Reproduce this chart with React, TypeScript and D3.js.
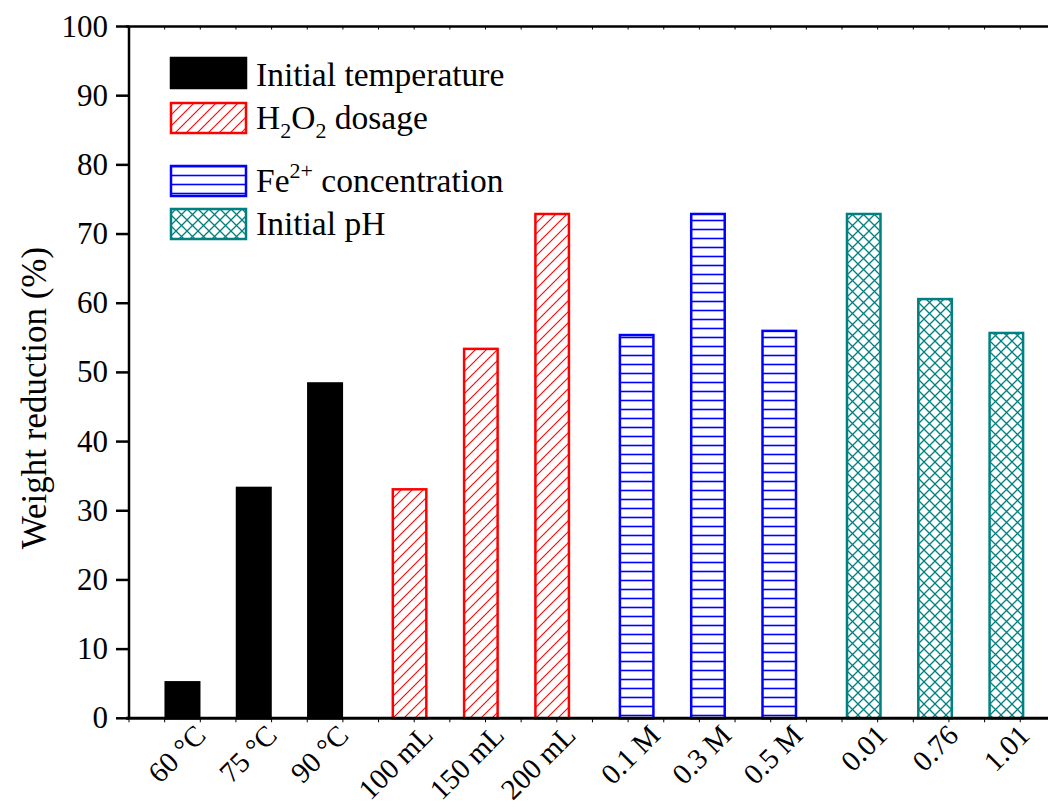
import * as React from 'react'
import * as d3 from 'd3'

const categories = ['60 °C', '75 °C', '90 °C', '100 mL', '150 mL', '200 mL', '0.1 M', '0.3 M', '0.5 M', '0.01', '0.76', '1.01']
const groupOf = [0, 0, 0, 1, 1, 1, 2, 2, 2, 3, 3, 3]
const values = [5.2, 33.3, 48.4, 33.1, 53.4, 72.9, 55.4, 72.9, 56.0, 72.9, 60.6, 55.7]
const seriesNames = ['Initial temperature', 'H2O2 dosage', 'Fe2+ concentration', 'Initial pH']
const seriesColors = ['#000000', '#ff0000', '#0000ff', '#008080']
const yTicks = [0, 10, 20, 30, 40, 50, 60, 70, 80, 90, 100]

const W = 1048
const H = 808
const FONT = '"Liberation Serif", "Times New Roman", serif'

const App = () => {
  const x0 = 129
  const step = 35.65
  const x = d3.scaleLinear().domain([0, 1]).range([x0, x0 + step])
  const y = d3.scaleLinear().domain([0, 100]).range([718.3, 26.5])

  // slot position: 2 minor ticks per bar, small extra gap between groups
  const pos = (i: number) => 1.5 + 2 * i + 0.37 * groupOf[i]
  const barW = 0.94

  const minorTicks = d3.range(0, Math.ceil((W - x0) / step) + 1)
  const fills = ['#000', 'url(#hatch)', 'url(#hlines)', 'url(#cross)']

  const legendY = [58, 103, 166, 209]

  return (
    <svg width={W} height={H} style={{ position: 'absolute', left: 0, top: 0, background: '#fff' }} fontFamily={FONT}>
      <defs>
        <pattern id="hatch" patternUnits="userSpaceOnUse" width={11} height={11}>
          <path d="M0,11 L11,0 M-2,2 L2,-2 M9,13 L13,9" stroke="#ff0000" strokeWidth={1.1} />
        </pattern>
        <pattern id="hlines" patternUnits="userSpaceOnUse" width={10} height={9}>
          <line x1={0} x2={10} y1={4.5} y2={4.5} stroke="#0000ff" strokeWidth={1.6} />
        </pattern>
        <pattern id="cross" patternUnits="userSpaceOnUse" width={11} height={11}>
          <path d="M0,0 L11,11 M0,11 L11,0" stroke="#008080" strokeWidth={1.3} />
        </pattern>
      </defs>
      <rect width={W} height={H} fill="#fff" />

      {values.map((v, i) => (
        <rect
          key={i}
          x={x(pos(i) - barW / 2)}
          y={y(v)}
          width={x(barW) - x(0)}
          height={y(0) - y(v)}
          fill={fills[groupOf[i]]}
          stroke={seriesColors[groupOf[i]]}
          strokeWidth={2.5}
        />
      ))}

      {/* axes */}
      <line x1={x0} x2={x0} y1={y(100)} y2={y(0)} stroke="#000" strokeWidth={2.5} />
      <line x1={x0 - 3} x2={W} y1={y(0)} y2={y(0)} stroke="#000" strokeWidth={3} />
      <line x1={x0 - 3} x2={W} y1={y(100)} y2={y(100)} stroke="#000" strokeWidth={2.5} />
      {minorTicks.map(t => (
        <g key={t}>
          <line x1={x(t)} x2={x(t)} y1={y(0)} y2={y(0) + 4} stroke="#000" strokeWidth={1} />
          <line x1={x(t)} x2={x(t)} y1={y(100)} y2={y(100) + 3} stroke="#000" strokeWidth={1} />
        </g>
      ))}
      {yTicks.map(t => (
        <g key={t}>
          <line x1={x0 - 13} x2={x0} y1={y(t)} y2={y(t)} stroke="#000" strokeWidth={2.5} />
          <text x={x0 - 21} y={y(t) + 10} textAnchor="end" fontSize={31}>{t}</text>
        </g>
      ))}
      {categories.map((c, i) => {
        const cx = x(pos(i))
        return (
          <text key={c} transform={`translate(${cx + 25},${737}) rotate(-45)`} textAnchor="end" fontSize={29}>
            {c}
          </text>
        )
      })}
      <text transform={`translate(46,398) rotate(-90)`} textAnchor="middle" fontSize={35}>Weight reduction (%)</text>

      {/* legend */}
      {seriesNames.map((s, k) => (
        <g key={s}>
          <rect x={171} y={legendY[k]} width={75} height={30} fill={fills[k]} stroke={seriesColors[k]} strokeWidth={2.5} />
        </g>
      ))}
      <text x={256} y={86} fontSize={33.5}>Initial temperature</text>
      <text x={256} y={129} fontSize={33.5}>
        H<tspan dy={9} fontSize={22}>2</tspan><tspan dy={-9}>O</tspan><tspan dy={9} fontSize={22}>2</tspan><tspan dy={-9}> dosage</tspan>
      </text>
      <text x={256} y={192} fontSize={33.5}>
        Fe<tspan dy={-14} fontSize={22}>2+</tspan><tspan dy={14}> concentration</tspan>
      </text>
      <text x={256} y={235} fontSize={33.5}>Initial pH</text>
    </svg>
  )
}

export default App
